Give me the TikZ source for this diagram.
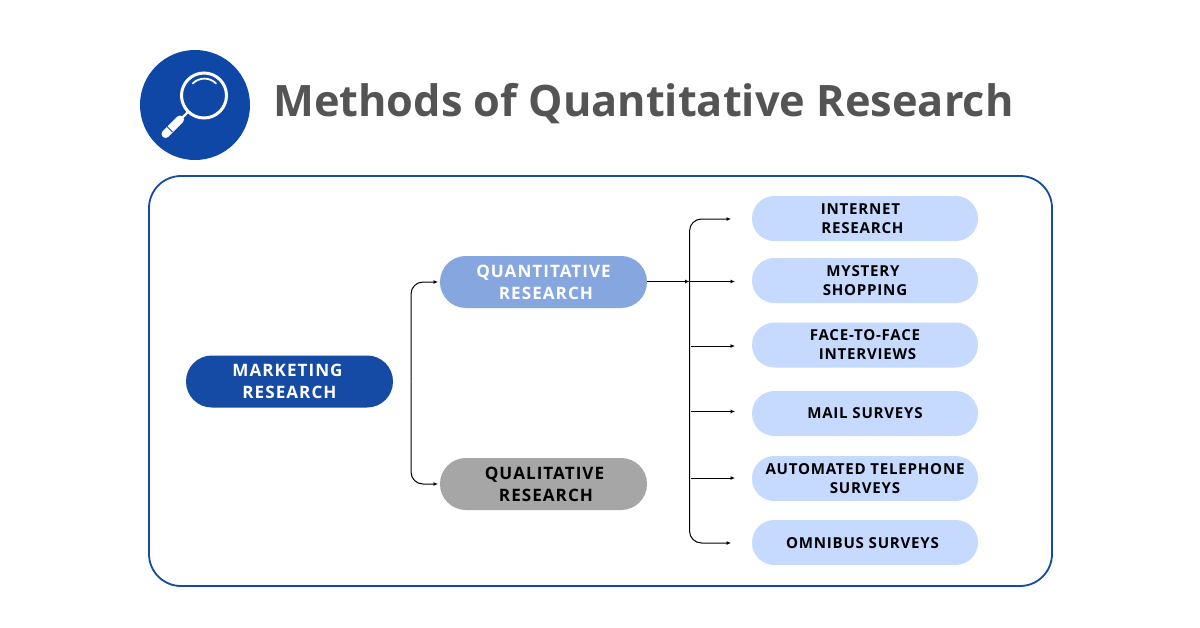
\documentclass[tikz,border=0pt]{standalone}
\usepackage{fontspec}
\setmainfont{Open Sans}
\newfontfamily\titlefont{Open Sans}
\newfontfamily\lblfont[LetterSpace=6]{Open Sans}
\newfontfamily\smallfont[LetterSpace=5]{Open Sans}
\usetikzlibrary{arrows.meta}
\definecolor{deepblue}{HTML}{0F47A6}
\definecolor{midblue}{HTML}{154AA5}
\definecolor{softblue}{HTML}{86A6E0}
\definecolor{paleblue}{HTML}{C6DAFF}
\definecolor{greybox}{HTML}{A6A6A6}
\definecolor{titlegrey}{HTML}{545454}
\tikzset{
  x=1pt,y=-1pt,
  bigpill/.style={rounded corners=25.9pt,minimum width=207pt,minimum height=52pt,inner sep=0pt,align=center,font=\fontsize{17.1}{22}\lblfont\bfseries,execute at begin node={\rule{0pt}{14.5pt}}},
  smallpill/.style={rounded corners=22.4pt,fill=paleblue,minimum width=226pt,minimum height=45pt,inner sep=0pt,align=center,text=black,font=\fontsize{15.1}{19}\smallfont\bfseries},
  lowtext/.style={execute at begin node={\rule{0pt}{13pt}}},
  link/.style={draw=black,line width=1pt,-{Latex[length=4.5pt,width=4pt]}},
}
\begin{document}
\begin{tikzpicture}
\useasboundingbox (0,0) rectangle (1200,627);
\fill[white] (0,0) rectangle (1200,627);
% header icon
\fill[deepblue] (195,105) circle[radius=55];
\draw[white,line width=3pt] (204,95.5) circle[radius=22.5];
\draw[white,line width=1.8pt,line cap=round] (192.7,83.5) .. controls (199,77) and (210,77) .. (216,83.5);
\draw[white,line width=2.4pt] (187.5,112.5) -- (181,119);
\draw[white,line width=8pt,line cap=round] (180,119.5) -- (165.5,134);
\draw[deepblue,line width=1pt] (166,125.5) -- (172.5,132);
\node[anchor=west,inner sep=0pt,text=titlegrey,font=\fontsize{43.3}{50}\titlefont\bfseries] (title) at (273,104) {Methods of Quantitative Research};
% frame
\draw[midblue,line width=1.8pt,rounded corners=32pt] (149,176) rectangle (1052,586);
% pills
\node[bigpill,fill=midblue,text=white] (mr) at (289.5,381.5) {MARKETING\hspace*{4pt}\\RESEARCH};
\node[bigpill,fill=softblue,text=white] (qn) at (543.5,282) {QUANTITATIVE\\\hspace*{5pt}RESEARCH};
\node[bigpill,fill=greybox,text=black] (ql) at (543.5,484) {\hspace*{2pt}QUALITATIVE\\\hspace*{5pt}RESEARCH};
\node[smallpill,lowtext] (a) at (865,218.5) {INTERNET\hspace*{9pt}\\RESEARCH\hspace*{5pt}};
\node[smallpill] (b) at (865,280.5) {MYSTERY\hspace*{4pt}\\SHOPPING};
\node[smallpill] (c) at (865,345) {FACE-TO-FACE\\\hspace*{5pt}INTERVIEWS};
\node[smallpill] (d) at (865,413.5) {MAIL SURVEYS};
\node[smallpill] (e) at (865,478.5) {AUTOMATED TELEPHONE\\SURVEYS};
\node[smallpill,lowtext] (f) at (865,542.5) {OMNIBUS SURVEYS\hspace*{5pt}};
% arrow end points
\coordinate (qnin) at (438,282);
\coordinate (qlin) at (438,484);
\coordinate (mrout) at (411,381.5);
\coordinate (ta) at (731,219);
\coordinate (tb) at (735,281.5);
\coordinate (tc) at (735,346);
\coordinate (td) at (735,411.5);
\coordinate (te) at (735,478);
\coordinate (tf) at (731,543);
\coordinate (bus) at (689.5,281.5);
\coordinate (busc) at (690.5,346);
\coordinate (busd) at (690.5,411.5);
\coordinate (buse) at (690.5,478);
% connectors
\draw[link,rounded corners=12pt] (mrout) |- (qnin);
\draw[link,rounded corners=12pt] (mrout) |- (qlin);
\draw[link] (qn.east |- bus) -- (bus);
\draw[link] (bus) -- (tb);
\draw[link,rounded corners=12pt] (bus) |- (ta);
\draw[link,rounded corners=12pt] (bus) |- (tf);
\draw[link] (busc) -- (tc);
\draw[link] (busd) -- (td);
\draw[link] (buse) -- (te);
\end{tikzpicture}
\end{document}
